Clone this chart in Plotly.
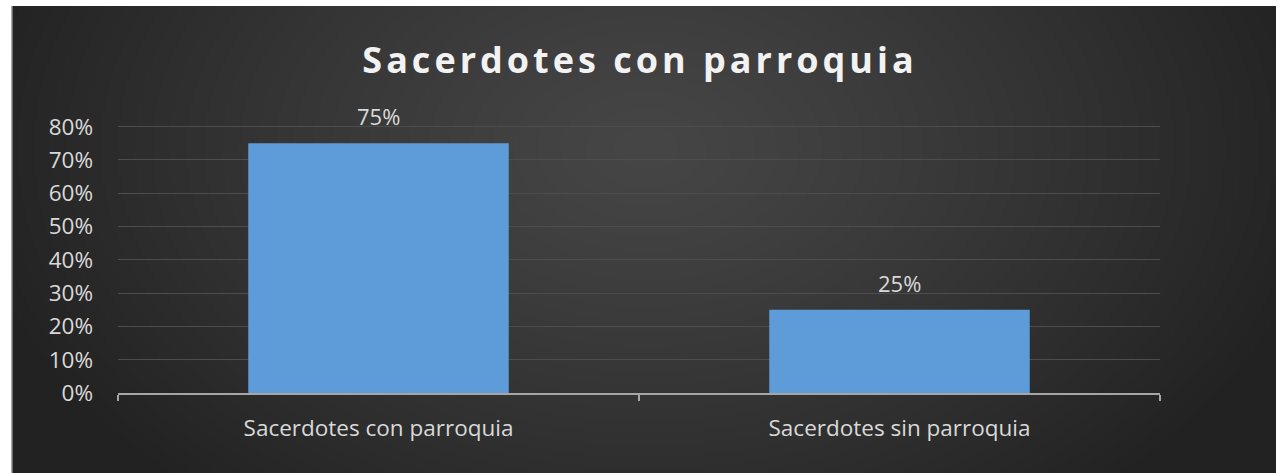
import base64
import struct
import zlib

import numpy as np
import plotly.graph_objects as go

categories = ["Sacerdotes con parroquia", "Sacerdotes sin parroquia"]
values = [75, 25]
tick_vals = [0, 10, 20, 30, 40, 50, 60, 70, 80]
tick_text = ["0%", "10%", "20%", "30%", "40%", "50%", "60%", "70%", "80%"]
title_text = "Sacerdotes con parroquia"


def make_png(arr):
    h, w, _ = arr.shape
    raw = b"".join(b"\x00" + arr[i].tobytes() for i in range(h))

    def chunk(tag, data):
        c = struct.pack(">I", len(data)) + tag + data
        return c + struct.pack(">I", zlib.crc32(tag + data) & 0xFFFFFFFF)

    png = b"\x89PNG\r\n\x1a\n"
    png += chunk(b"IHDR", struct.pack(">IIBBBBB", w, h, 8, 2, 0, 0, 0))
    png += chunk(b"IDAT", zlib.compress(raw, 9))
    png += chunk(b"IEND", b"")
    return "data:image/png;base64," + base64.b64encode(png).decode()


# radial gradient background (lighter towards upper center)
W, H = 316, 117
yy, xx = np.mgrid[0:H, 0:W]
cx, cy = W / 2, H * 0.3
d = np.sqrt(((xx - cx) / (W * 0.55)) ** 2 + ((yy - cy) / (H * 1.0)) ** 2)
d = np.clip(d, 0, 1)
inner, outer = 70, 34
v = (inner + (outer - inner) * d ** 1.2).astype(np.uint8)
img = np.stack([v, v, v], axis=-1)
bg_src = make_png(img)

FW, FH = 1280, 473
L, R, T, B = 118, 120, 120, 80
pw = FW - L - R
ph = FH - T - B


def px_x(p):
    return (p - L) / pw


def px_y(p):
    return (FH - B - p) / ph


fig = go.Figure()
fig.add_trace(
    go.Bar(
        x=categories,
        y=values,
        marker=dict(color="#5d9cd8", line=dict(width=0)),
        width=0.5,
        hoverinfo="x+y",
    )
)

for c, v in zip(categories, values):
    fig.add_annotation(
        x=c,
        y=v,
        xref="x",
        yref="y",
        text=f"{v}%",
        showarrow=False,
        yanchor="bottom",
        yshift=10,
        font=dict(color="#d9d9d9", size=22, family="Open Sans"),
    )

fig.update_layout(
    width=FW,
    height=FH,
    margin=dict(l=L, r=R, t=T, b=B),
    paper_bgcolor="white",
    plot_bgcolor="rgba(0,0,0,0)",
    showlegend=False,
    title=dict(
        text=f'<span style="letter-spacing:4px"><b>{title_text}</b></span>',
        x=0.5,
        xanchor="center",
        y=1 - 60 / FH,
        yanchor="middle",
        font=dict(family="Open Sans", size=36, color="#f2f2f2"),
    ),
    images=[
        dict(
            source=bg_src,
            xref="paper",
            yref="paper",
            x=px_x(12),
            y=px_y(6),
            sizex=px_x(1276) - px_x(12),
            sizey=px_y(6) - px_y(473),
            xanchor="left",
            yanchor="top",
            sizing="stretch",
            layer="below",
        )
    ],
    shapes=[
        dict(
            type="line",
            xref="paper",
            yref="paper",
            x0=px_x(12),
            x1=px_x(12),
            y0=px_y(6),
            y1=px_y(473),
            line=dict(color="#8a8a8a", width=1.5),
        )
    ],
)

fig.update_yaxes(
    range=[0, 82],
    tickvals=tick_vals,
    ticktext=tick_text,
    showgrid=True,
    gridcolor="#4d4d4d",
    gridwidth=1,
    zeroline=False,
    showline=False,
    tickfont=dict(color="#d9d9d9", size=22.5, family="Open Sans"),
    ticklabelstandoff=24,
)
fig.update_xaxes(
    showline=True,
    linecolor="#a6a6a6",
    linewidth=2,
    ticks="outside",
    tickson="boundaries",
    ticklen=6,
    tickwidth=2,
    tickcolor="#a6a6a6",
    tickfont=dict(color="#d9d9d9", size=22.5, family="Open Sans"),
    ticklabelstandoff=14,
    showgrid=False,
)

fig.write_html(
    "out.html",
    config={"displayModeBar": False},
    post_script="document.body.style.margin='0';",
)
